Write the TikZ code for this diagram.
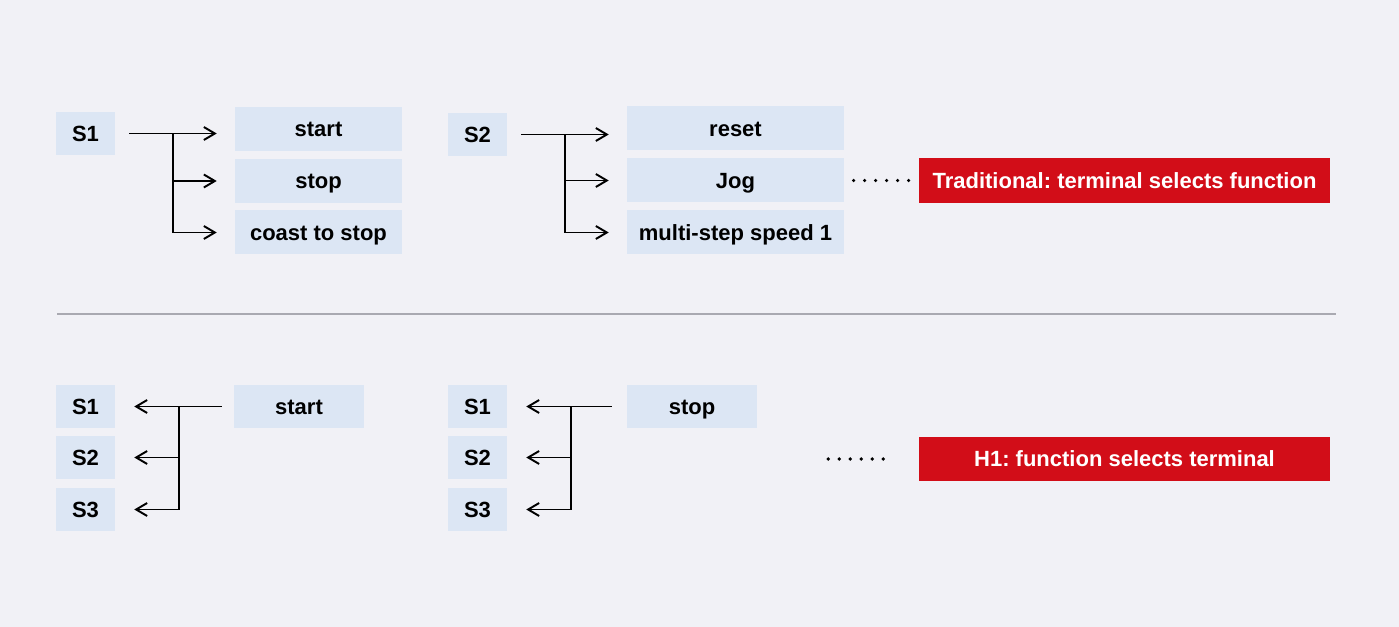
\documentclass[tikz,border=0pt]{standalone}
\usepackage{fontspec}
\setmainfont{Liberation Sans}
\usepackage{xcolor}
\usepackage{tikz}
\usetikzlibrary{arrows.meta}
\frenchspacing

\definecolor{bg}{HTML}{F1F1F6}
\definecolor{boxblue}{HTML}{DCE6F4}
\definecolor{redbox}{HTML}{D20D18}
\definecolor{sepgray}{HTML}{A9A9B1}

\tikzset{
	term/.style={fill=boxblue, inner sep=0pt, minimum width=44.25pt, minimum height=32.25pt,
		text height=11.8pt, text depth=0pt, font=\fontsize{16.5}{19.8}\selectfont\bfseries},
	func/.style={term, minimum height=33pt},
	note/.style={fill=redbox, text=white, inner sep=0pt, minimum width=308.25pt, minimum height=33.5pt,
		text height=11.8pt, text depth=0pt, font=\fontsize{16.5}{19.8}\selectfont\bfseries},
	link/.style={line width=1.45pt, -{Straight Barb[length=8.25pt,width=9.75pt]}},
	dots/.style={line width=2.7pt, line cap=round, dash pattern=on 0pt off 8.25pt}
}

\begin{document}
\begin{tikzpicture}[x=0.75pt,y=-0.75pt]
\fill[bg] (0,0) rectangle (1399,627);

\node[term] (a1) at (85.5,133.5) {S1};
\node[term] (a2) at (477.5,134.5) {S2};

\foreach \n/\y/\t in {1/129/start,2/181/stop,3/232.5/coast to stop}{
	\node[func, minimum width=125.25pt] (f\n) at (318.5,\y) {\t};
}
\foreach \n/\y/\t in {1/128.5/reset,2/180.5/Jog,3/232.5/multi-step speed 1}{
	\node[func, minimum width=162.75pt] (g\n) at (735.5,\y) {\t};
}

\coordinate (ja) at (173,133.5);
\coordinate (jb) at (565,134.5);

\draw[link, shorten <=10.5pt, shorten >=13.5pt] (a1.east) -- (f1.west |- a1.east);
\draw[link, shorten >=13.5pt] (ja) |- (f2.west);
\draw[link, shorten >=13.5pt] (ja) |- (f3.west);

\draw[link, shorten <=10.5pt, shorten >=13.5pt] (a2.east) -- (g1.west |- a2.east);
\draw[link, shorten >=13.5pt] (jb) |- (g2.west);
\draw[link, shorten >=13.5pt] (jb) |- (g3.west);

\node[note] (n1) at (1124.5,180.5) {Traditional: terminal selects function};
\draw[dots, shorten <=7pt, shorten >=7pt] (g2.east) -- (n1.west);

\draw[sepgray, line width=1.1pt] (57,314)--(1336,314);

\foreach \n/\y in {1/406.5,2/457.5,3/509.5}{
	\node[term] (b\n) at (85.5,\y) {S\n};
	\node[term] (c\n) at (477.5,\y) {S\n};
}

\node[term, minimum width=97.5pt] (hs) at (299,406.5) {start};
\node[term, minimum width=97.5pt] (ht) at (692,406.5) {stop};

\coordinate (jc) at (179,406.5);
\coordinate (jd) at (571,406.5);

\draw[link, shorten <=9pt, shorten >=14.25pt] (hs.west) -- (b1.east);
\draw[link, shorten >=14.25pt] (jc) |- (b2.east);
\draw[link, shorten >=14.25pt] (jc) |- (b3.east);

\draw[link, shorten <=11.25pt, shorten >=14.25pt] (ht.west) -- (c1.east);
\draw[link, shorten >=14.25pt] (jd) |- (c2.east);
\draw[link, shorten >=14.25pt] (jd) |- (c3.east);

\node[note] (n2) at (1124.5,459) {H1: function selects terminal};
\draw[dots, shorten <=53.25pt, shorten >=25.5pt] (n2.west -| ht.east) -- (n2.west);

\end{tikzpicture}
\end{document}
